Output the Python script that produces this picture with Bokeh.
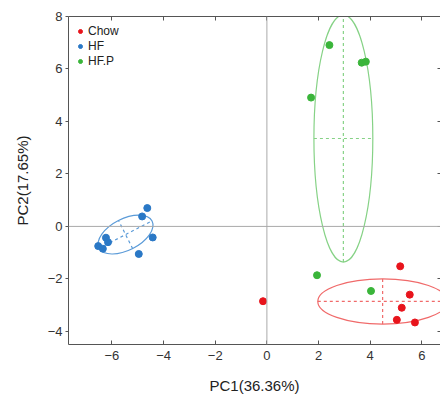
import math
from bokeh.plotting import figure
from bokeh.models import LinearAxis, Range1d, Span, FixedTicker, Legend, LegendItem, CustomJSTickFormatter
from bokeh.embed import file_html
from bokeh.resources import INLINE

# Data
groups = ["Chow", "HF", "HF.P"]
colors = ["#e8141c", "#2a78c6", "#3ab53a"]
ell_colors = ["#f06a6a", "#5b9bd8", "#86d286"]

chow_x = [-0.15, 5.16, 5.53, 5.22, 5.03, 5.73]
chow_y = [-2.85, -1.52, -2.60, -3.10, -3.56, -3.66]
hf_x = [-4.63, -4.83, -4.42, -4.96, -6.53, -6.35, -6.23, -6.15]
hf_y = [0.70, 0.38, -0.42, -1.05, -0.75, -0.85, -0.43, -0.60]
hfp_x = [2.42, 3.67, 3.83, 1.71, 1.94, 4.03]
hfp_y = [6.91, 6.24, 6.28, 4.91, -1.86, -2.46]

# ellipse params: center x, center y, full width, full height, angle (deg)
ell_cx = [4.48, -5.47, 2.96]
ell_cy = [-2.86, -0.31, 3.35]
ell_w = [5.02, 2.3, 2.28]
ell_h = [1.72, 1.2, 9.42]
ell_ang = [0.0, 27.0, 0.0]

xticks = [-6, -4, -2, 0, 2, 4, 6]
yticks = [-4, -2, 0, 2, 4, 6, 8]

p = figure(frame_width=372, frame_height=328, output_backend="svg", toolbar_location=None,
           x_range=Range1d(-7.68, 6.72), y_range=Range1d(-4.5, 8.0),
           min_border_left=68, min_border_top=16, min_border_bottom=50, min_border_right=0,
           x_axis_label="PC1(36.36%)", y_axis_label="PC2(17.65%)")
p.outline_line_color = None
p.xgrid.visible = False
p.ygrid.visible = False
p.background_fill_color = "white"
p.border_fill_color = "white"

font = "Liberation Sans"
for ax in [p.xaxis[0], p.yaxis[0]]:
    ax.axis_line_color = "#555555"
    ax.major_tick_line_color = "#555555"
    ax.minor_tick_line_color = None
    ax.major_label_text_font = font
    ax.major_label_text_font_size = "13px"
    ax.major_label_text_color = "#333333"
    ax.axis_label_text_font = font
    ax.axis_label_text_font_size = "15px"
    ax.axis_label_text_font_style = "normal"
    ax.axis_label_text_color = "#222222"
p.xaxis[0].ticker = FixedTicker(ticks=xticks)
p.yaxis[0].ticker = FixedTicker(ticks=yticks)
p.xaxis[0].major_tick_in = 4
p.xaxis[0].major_tick_out = 0
p.xaxis[0].major_label_standoff = 6
p.xaxis[0].axis_label_standoff = 14
p.yaxis[0].major_tick_in = 0
p.yaxis[0].major_tick_out = 3
p.yaxis[0].major_label_standoff = 3
p.yaxis[0].axis_label_standoff = 14

blank = CustomJSTickFormatter(code="return ''")
top = LinearAxis(ticker=FixedTicker(ticks=xticks), formatter=blank, axis_line_color="#555555",
                 major_tick_line_color="#555555", major_tick_in=4, major_tick_out=0,
                 minor_tick_line_color=None, major_label_text_font_size="0px", major_label_standoff=0)
p.add_layout(top, "above")
right = LinearAxis(ticker=FixedTicker(ticks=yticks), formatter=blank, axis_line_color=None,
                   major_tick_line_color="#555555", major_tick_in=3, major_tick_out=0,
                   minor_tick_line_color=None, major_label_text_font_size="0px", major_label_standoff=0)
p.add_layout(right, "right")

p.add_layout(Span(location=0, dimension="width", line_color="#aaaaaa", line_width=1))
p.add_layout(Span(location=0, dimension="height", line_color="#aaaaaa", line_width=1))

# ellipses and their dashed axes
for i in range(3):
    p.ellipse(x=[ell_cx[i]], y=[ell_cy[i]], width=[ell_w[i]], height=[ell_h[i]],
              angle=[math.radians(ell_ang[i])], fill_color=None, line_color=ell_colors[i], line_width=1.2)
    a = math.radians(ell_ang[i])
    hw, hh = ell_w[i] / 2, ell_h[i] / 2
    x0 = [ell_cx[i] - hw * math.cos(a), ell_cx[i] + hh * math.sin(a)]
    y0 = [ell_cy[i] - hw * math.sin(a), ell_cy[i] - hh * math.cos(a)]
    x1 = [ell_cx[i] + hw * math.cos(a), ell_cx[i] - hh * math.sin(a)]
    y1 = [ell_cy[i] + hw * math.sin(a), ell_cy[i] + hh * math.cos(a)]
    p.segment(x0=x0, y0=y0, x1=x1, y1=y1, line_color=ell_colors[i], line_dash="3 3", line_width=1.2)

r1 = p.scatter(chow_x, chow_y, size=7, color=colors[0])
r2 = p.scatter(hf_x, hf_y, size=7, color=colors[1])
r3 = p.scatter(hfp_x, hfp_y, size=7, color=colors[2])

legend = Legend(items=[LegendItem(label=groups[0], renderers=[r1]),
                       LegendItem(label=groups[1], renderers=[r2]),
                       LegendItem(label=groups[2], renderers=[r3])],
                location="top_left", border_line_color=None, background_fill_alpha=0,
                label_text_font=font, label_text_font_size="12px", label_text_color="#222222",
                glyph_width=10, glyph_height=10, label_standoff=3, spacing=0,
                padding=2, margin=7, label_height=15)
p.add_layout(legend)

open("out.html", "w").write(file_html(p, INLINE))
